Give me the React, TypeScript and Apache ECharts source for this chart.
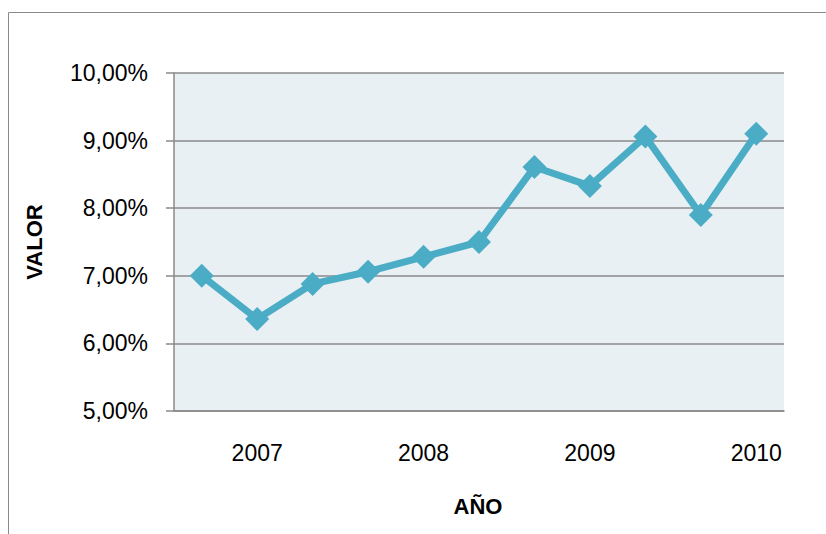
import React, { useEffect, useRef } from "react";
import * as echarts from "echarts";

// Eleven observations spread over four years; only one label per year is shown.
const periods = ["p1", "p2", "p3", "p4", "p5", "p6", "p7", "p8", "p9", "p10", "p11"];
const yearLabels = ["", "2007", "", "", "2008", "", "", "2009", "", "", "2010"];
const values = [7.0, 6.36, 6.88, 7.06, 7.28, 7.5, 8.61, 8.33, 9.06, 7.9, 9.1];

const yMin = 5;
const yMax = 10;
const yStep = 1;

const FONT = "'Liberation Sans', Arial, sans-serif";
const GRID_GRAY = "#8a8a8a";
const LINE_BLUE = "#4bacc6";

export default function App() {
  const ref = useRef<HTMLDivElement>(null);

  useEffect(() => {
    if (!ref.current) return;
    const chart = echarts.init(ref.current, null, { renderer: "svg" });
    chart.setOption({
      animation: false,
      backgroundColor: "#ffffff",
      textStyle: { fontFamily: FONT },
      grid: {
        left: 174,
        right: 42,
        top: 73,
        bottom: 123,
        show: true,
        backgroundColor: "#e8f0f4",
        borderWidth: 0,
      },
      xAxis: {
        type: "category",
        data: periods,
        boundaryGap: true,
        axisLine: { show: true, lineStyle: { color: GRID_GRAY, width: 1.5 } },
        axisTick: { show: false },
        axisLabel: {
          interval: 0,
          margin: 30,
          fontSize: 23,
          color: "#000",
          fontFamily: FONT,
          formatter: (_v: string, i: number) => yearLabels[i],
        },
        splitLine: { show: false },
      },
      yAxis: {
        type: "value",
        min: yMin,
        max: yMax,
        interval: yStep,
        axisLine: { show: true, lineStyle: { color: GRID_GRAY, width: 1.5 } },
        axisTick: { show: true, length: 8, lineStyle: { color: GRID_GRAY, width: 1.5 } },
        axisLabel: {
          margin: 26,
          fontSize: 23,
          color: "#000",
          fontFamily: FONT,
          formatter: (v: number) => `${v.toFixed(2).replace(".", ",")}%`,
        },
        splitLine: { show: true, lineStyle: { color: GRID_GRAY, width: 1.5 } },
      },
      series: [
        {
          type: "line",
          data: values,
          symbol: "diamond",
          symbolSize: 24,
          lineStyle: { color: LINE_BLUE, width: 7 },
          itemStyle: { color: LINE_BLUE },
          z: 3,
        },
      ],
      graphic: [
        {
          type: "rect",
          silent: true,
          z: -1,
          shape: { x: 8.5, y: 12.5, width: 900, height: 600 },
          style: { fill: "none", stroke: GRID_GRAY, lineWidth: 1 },
        },
        {
          type: "text",
          x: 34,
          y: 242,
          rotation: Math.PI / 2,
          style: {
            text: "VALOR",
            font: `bold 22px ${FONT}`,
            fill: "#000",
            align: "center",
            verticalAlign: "middle",
          },
        },
        {
          type: "text",
          x: 478,
          y: 506,
          style: {
            text: "AÑO",
            font: `bold 22px ${FONT}`,
            fill: "#000",
            align: "center",
            verticalAlign: "middle",
          },
        },
      ],
    });
    return () => chart.dispose();
  }, []);

  return (
    <div
      ref={ref}
      style={{ position: "fixed", left: 0, top: 0, width: 826, height: 534 }}
    />
  );
}
